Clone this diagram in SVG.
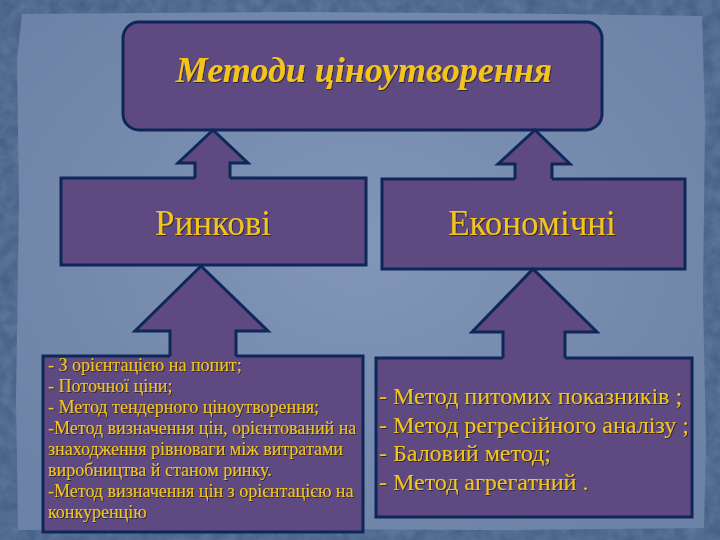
<svg xmlns="http://www.w3.org/2000/svg" width="720" height="540" viewBox="0 0 720 540">
<defs>
<filter id="noise" x="0" y="0" width="100%" height="100%">
<feTurbulence type="fractalNoise" baseFrequency="0.08" numOctaves="3" seed="4" result="t"/>
<feColorMatrix in="t" type="matrix" values="0 0 0 0 0.2  0 0 0 0 0.3  0 0 0 0 0.45  0 0 0 0.55 0"/>
</filter>
<radialGradient id="panel" cx="50%" cy="45%" r="65%">
<stop offset="0" stop-color="#8196b8"/>
<stop offset="1" stop-color="#6c82a6"/>
</radialGradient>
<filter id="sh" x="-5%" y="-20%" width="110%" height="140%">
<feDropShadow dx="1" dy="1" stdDeviation="0.4" flood-color="#2a2030" flood-opacity="0.9"/>
</filter>
</defs>
<style>
.box{fill:#5e4a80;stroke:#0f2659;stroke-width:3;stroke-linejoin:miter}
.af{fill:#5e4a80;stroke:none}
.as{fill:none;stroke:#0f2659;stroke-width:3;stroke-linejoin:miter}
.t{fill:#f3c41b;font-family:"Liberation Serif","Times New Roman",serif;filter:url(#sh)}
</style>
<rect x="0" y="0" width="720" height="540" fill="#415a82"/>
<rect x="0" y="0" width="720" height="540" filter="url(#noise)"/>
<path d="M22 14 L300 12 L560 14 L702 16 L705 120 L703 300 L706 440 L704 528 L500 530 L250 529 L18 530 L16 400 L19 200 L17 60 Z" fill="url(#panel)"/>
<g id="title">
<rect class="box" x="123" y="22" width="479" height="108" rx="16" ry="16"/>
<text class="t" x="364" y="82" text-anchor="middle" font-size="36" font-style="italic" font-weight="bold">Методи ціноутворення</text>
</g>
<g id="rynkovi">
<rect class="box" x="61" y="178" width="305" height="87"/>
<text class="t" x="213" y="235" text-anchor="middle" font-size="35">Ринкові</text>
</g>
<g id="ekonomichni">
<rect class="box" x="382" y="179" width="303" height="90"/>
<text class="t" x="532" y="235" text-anchor="middle" font-size="35">Економічні</text>
</g>
<g id="market-list">
<rect class="box" x="43" y="356" width="320" height="176"/>
<text class="t" font-size="18">
<tspan x="48" y="371">- З орієнтацією на попит;</tspan>
<tspan x="48" y="392">- Поточної ціни;</tspan>
<tspan x="48" y="413">- Метод тендерного ціноутворення;</tspan>
<tspan x="48" y="434">-Метод визначення цін, орієнтований на</tspan>
<tspan x="48" y="455">знаходження рівноваги між витратами</tspan>
<tspan x="48" y="476">виробництва й станом ринку.</tspan>
<tspan x="48" y="497">-Метод визначення цін з орієнтацією на</tspan>
<tspan x="48" y="518">конкуренцію</tspan>
</text>
</g>
<g id="economic-list">
<rect class="box" x="376" y="358" width="316" height="159"/>
<text class="t" font-size="24">
<tspan x="379" y="404">- Метод питомих показників ;</tspan>
<tspan x="379" y="433">- Метод регресійного аналізу ;</tspan>
<tspan x="379" y="461">- Баловий метод;</tspan>
<tspan x="379" y="490">- Метод агрегатний .</tspan>
</text>
</g>
<g id="connectors">
<path class="af" d="M213 130 L248 163 L230 163 L230 180 L195 180 L195 163 L178 163 Z"/>
<path class="as" d="M195 178 L195 163 L178 163 L213 130 L248 163 L230 163 L230 178"/>
<path class="af" d="M535 130 L570 164 L552 164 L552 181 L515 181 L515 164 L498 164 Z"/>
<path class="as" d="M515 179 L515 164 L498 164 L535 130 L570 164 L552 164 L552 179"/>
<path class="af" d="M201 266 L268 331 L236 331 L236 358 L170 358 L170 331 L135 331 Z"/>
<path class="as" d="M170 356 L170 331 L135 331 L201 266 L268 331 L236 331 L236 356"/>
<path class="af" d="M533 269 L597 332 L565 332 L565 360 L503 360 L503 332 L472 332 Z"/>
<path class="as" d="M503 358 L503 332 L472 332 L533 269 L597 332 L565 332 L565 358"/>
</g>
</svg>
